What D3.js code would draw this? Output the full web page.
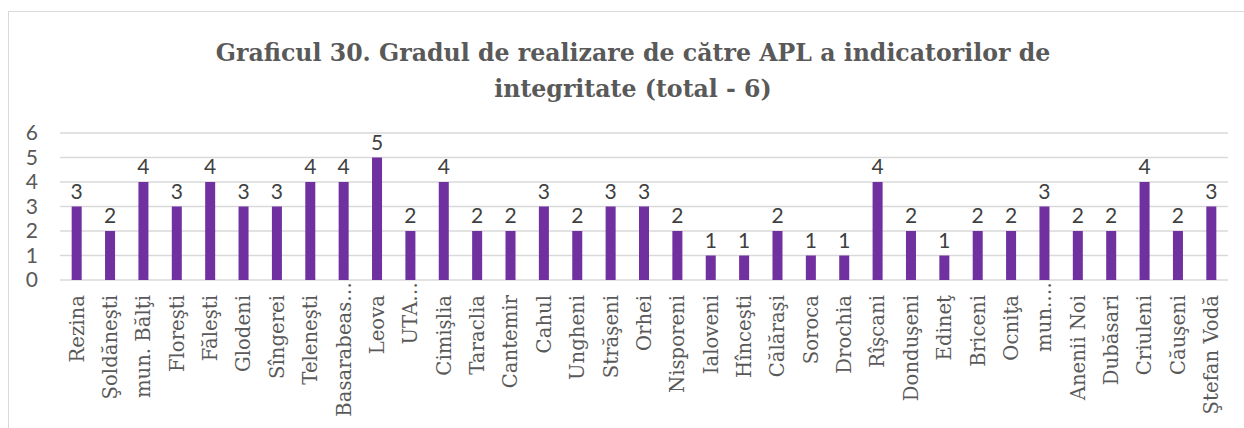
<!DOCTYPE html>
<html>
<head>
<meta charset="utf-8">
<script src="https://cdn.jsdelivr.net/npm/d3@7"></script>
<style>
  body { margin: 0; background: #fff; }
  svg { display: block; }
</style>
</head>
<body>
<div id="chart"></div>
<script>
// raion names as shown on the axis (truncated ones kept as in the source)
var categories = ["Rezina", "Şoldăneşti", "mun. Bălţi", "Floreşti", "Făleşti", "Glodeni", "Sîngerei",
  "Teleneşti", "Basarabeas…", "Leova", "UTA…", "Cimişlia", "Taraclia", "Cantemir", "Cahul", "Ungheni",
  "Străşeni", "Orhei", "Nisporeni", "Ialoveni", "Hînceşti", "Călăraşi", "Soroca", "Drochia", "Rîşcani",
  "Donduşeni", "Edineţ", "Briceni", "Ocniţa", "mun.…", "Anenii Noi", "Dubăsari", "Criuleni", "Căuşeni",
  "Ştefan Vodă"];
var values = [3, 2, 4, 3, 4, 3, 3, 4, 4, 5, 2, 4, 2, 2, 3, 2, 3, 3, 2, 1, 1, 2, 1, 1, 4, 2, 1, 2, 2, 3, 2, 2, 4, 2, 3];
var yTicks = [0, 1, 2, 3, 4, 5, 6];
var titleLines = ["Graficul 30. Gradul de realizare de către APL a indicatorilor de", "integritate (total - 6)"];

var W = 1244, H = 428;
var margin = {top: 133, right: 16, bottom: 148, left: 60};
var width = W - margin.left - margin.right;
var height = H - margin.top - margin.bottom;

var svg = d3.select("#chart").append("svg")
  .attr("width", W)
  .attr("height", H);

// chart frame
svg.append("rect")
  .attr("x", 8.5).attr("y", 11.5)
  .attr("width", W + 20).attr("height", H + 20)
  .attr("fill", "none")
  .attr("stroke", "#d9d9d9")
  .attr("stroke-width", 1);

// title, two centered lines, sized to the reference width
var title = svg.append("text")
  .attr("text-anchor", "middle")
  .attr("fill", "#595959")
  .style("font-family", "'DejaVu Serif', serif")
  .style("font-weight", "bold")
  .style("font-size", "24px");
title.selectAll("tspan")
  .data(titleLines)
  .enter().append("tspan")
  .attr("x", 633)
  .attr("y", function(d, i) { return 61 + i * 36; })
  .text(function(d) { return d; });
var firstLen = title.select("tspan").node().getComputedTextLength();
title.style("font-size", (24 * 835 / firstLen) + "px");

var g = svg.append("g")
  .attr("transform", "translate(" + margin.left + "," + margin.top + ")");

var x = d3.scaleBand()
  .domain(categories)
  .range([0, width])
  .paddingInner(0.7)
  .paddingOuter(0.35);

var y = d3.scaleLinear()
  .domain([0, 6])
  .range([height, 0]);

// gridlines
g.append("g")
  .selectAll("line")
  .data(yTicks)
  .enter().append("line")
  .attr("x1", 0).attr("x2", width)
  .attr("y1", function(d) { return y(d); })
  .attr("y2", function(d) { return y(d); })
  .attr("stroke", "#d9d9d9")
  .attr("stroke-width", 1.5);

// y axis labels
var yAxis = g.append("g")
  .call(d3.axisLeft(y).tickValues(yTicks).tickFormat(d3.format("d")).tickSize(0).tickPadding(22));
yAxis.select(".domain").remove();
yAxis.selectAll("text")
  .attr("fill", "#595959")
  .style("font-family", "Lato, 'Open Sans', sans-serif")
  .style("font-size", "21px");

// bars
g.selectAll(".bar")
  .data(values)
  .enter().append("rect")
  .attr("class", "bar")
  .attr("x", function(d, i) { return x(categories[i]); })
  .attr("y", function(d) { return y(d); })
  .attr("width", x.bandwidth())
  .attr("height", function(d) { return height - y(d); })
  .attr("fill", "#7030a0");

// data labels
g.selectAll(".val")
  .data(values)
  .enter().append("text")
  .attr("class", "val")
  .attr("text-anchor", "middle")
  .attr("x", function(d, i) { return x(categories[i]) + x.bandwidth() / 2; })
  .attr("y", function(d) { return y(d) - 8; })
  .attr("fill", "#404040")
  .style("font-family", "Lato, 'Open Sans', sans-serif")
  .style("font-size", "21px")
  .text(function(d) { return d; });

// x axis: rotated category names
var xAxis = g.append("g")
  .attr("transform", "translate(0," + height + ")")
  .call(d3.axisBottom(x).tickSize(0));
xAxis.select(".domain").remove();
xAxis.selectAll("text")
  .attr("fill", "#595959")
  .style("font-family", "'DejaVu Serif', serif")
  .style("font-size", "15px")
  .attr("text-anchor", "end")
  .attr("transform", "rotate(-90)")
  .attr("x", function(d) { return d.indexOf("…") >= 0 ? -2 : -15; })
  .attr("y", 0)
  .attr("dy", "0.35em");

// fit label size so "Nisporeni" is ~98px like the reference
var nisp = xAxis.selectAll("text").filter(function(d) { return d === "Nisporeni"; }).node();
var fs = 15 * 98 / nisp.getComputedTextLength();
xAxis.selectAll("text").style("font-size", fs + "px");
</script>
</body>
</html>
